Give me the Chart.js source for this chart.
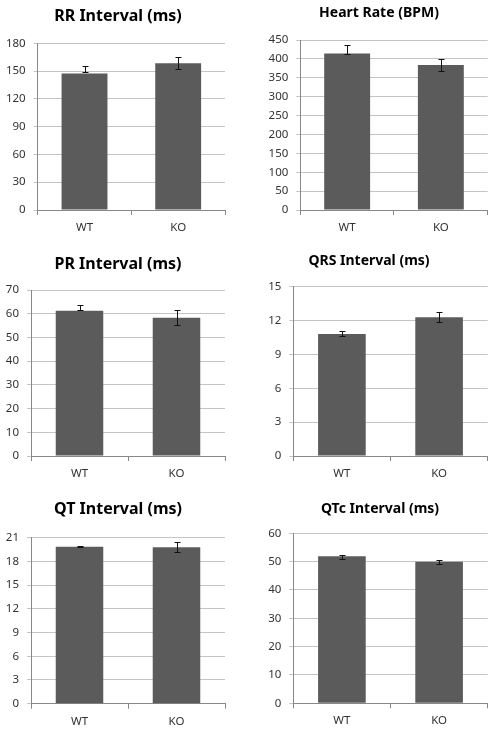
<!DOCTYPE html>
<html>
<head>
<meta charset="utf-8">
<script src="https://cdn.jsdelivr.net/npm/chart.js@4"></script>
<style>
  html, body { margin: 0; padding: 0; background: #fff; }
  #wrap { position: relative; width: 502px; height: 734px; }
  canvas { position: absolute; }
</style>
</head>
<body>
<div id="wrap">
  <canvas id="c1" width="251" height="245" style="left:0px;top:0px"></canvas>
  <canvas id="c2" width="251" height="245" style="left:251px;top:0px"></canvas>
  <canvas id="c3" width="251" height="245" style="left:0px;top:245px"></canvas>
  <canvas id="c4" width="251" height="245" style="left:251px;top:245px"></canvas>
  <canvas id="c5" width="251" height="244" style="left:0px;top:490px"></canvas>
  <canvas id="c6" width="251" height="244" style="left:251px;top:490px"></canvas>
</div>
<script>
/* ===============================
   data (bar value, error bar low / high ends)
================================ */
const categories = ['WT', 'KO'];

const rrValues = [147.5, 158.5];
const rrLow    = [149.2, 152];
const rrHigh   = [155.5, 165.5];

const hrValues = [414, 384];
const hrLow    = [412, 367];
const hrHigh   = [437, 400];

const prValues = [61.2, 58.3];
const prLow    = [61.4, 55.2];
const prHigh   = [63.8, 61.6];

const qrsValues = [10.8, 12.3];
const qrsLow    = [10.66, 11.9];
const qrsHigh   = [11.04, 12.76];

const qtValues = [19.86, 19.78];
const qtLow    = [19.86, 19.23];
const qtHigh   = [19.94, 20.41];

const qtcValues = [51.9, 50.0];
const qtcLow    = [51.1, 49.2];
const qtcHigh   = [52.2, 50.7];

const titles = ['RR Interval (ms)', 'Heart Rate (BPM)', 'PR Interval (ms)',
                'QRS Interval (ms)', 'QT Interval (ms)', 'QTc Interval (ms)'];
const yMax = [180, 450, 70, 15, 21, 60];
const yStep = [30, 50, 10, 3, 3, 10];

/* ===============================
   panel layout
================================ */
const panels = [
  { id: 'c1', values: rrValues,  low: rrLow,  high: rrHigh,  left: 37.7, right: 225,   top: 43.3, bottom: 210,   tx: 118, ty: 16,   ts: 16 },
  { id: 'c2', values: hrValues,  low: hrLow,  high: hrHigh,  left: 49.3, right: 236.7, top: 40,   bottom: 210,   tx: 128, ty: 13.5, ts: 14 },
  { id: 'c3', values: prValues,  low: prLow,  high: prHigh,  left: 31,   right: 225,   top: 45,   bottom: 211,   tx: 118, ty: 19.5, ts: 16 },
  { id: 'c4', values: qrsValues, low: qrsLow, high: qrsHigh, left: 42.3, right: 236.7, top: 41.7, bottom: 211,   tx: 118, ty: 16,   ts: 14 },
  { id: 'c5', values: qtValues,  low: qtLow,  high: qtHigh,  left: 31,   right: 225,   top: 47.7, bottom: 213.7, tx: 118, ty: 19,   ts: 16 },
  { id: 'c6', values: qtcValues, low: qtcLow, high: qtcHigh, left: 42.3, right: 236.7, top: 43.3, bottom: 213.3, tx: 129, ty: 19.5, ts: 14 }
];

// title drawn at a fixed spot, like the Excel chart title
const titlePlugin = {
  id: 'panelTitle',
  afterDraw(chart, args, opts) {
    const ctx = chart.ctx;
    ctx.save();
    ctx.font = 'bold ' + opts.size + 'px "Noto Sans", sans-serif';
    ctx.fillStyle = '#000';
    ctx.textAlign = 'center';
    ctx.textBaseline = 'middle';
    ctx.fillText(opts.text, opts.x, opts.y);
    ctx.restore();
  }
};

// error bars from the y scale
const errorBarPlugin = {
  id: 'errorBars',
  afterDatasetsDraw(chart, args, opts) {
    const ctx = chart.ctx;
    const yScale = chart.scales.y;
    const meta = chart.getDatasetMeta(0);
    ctx.save();
    ctx.strokeStyle = '#111';
    ctx.lineWidth = 1;
    meta.data.forEach((bar, i) => {
      const x = Math.round(bar.x) + 0.5;
      const yHi = Math.round(yScale.getPixelForValue(opts.high[i])) + 0.5;
      const yLo = Math.round(yScale.getPixelForValue(opts.low[i])) + 0.5;
      ctx.beginPath();
      ctx.moveTo(x, yHi); ctx.lineTo(x, yLo);
      ctx.moveTo(x - 3, yHi); ctx.lineTo(x + 3, yHi);
      ctx.moveTo(x - 3, yLo); ctx.lineTo(x + 3, yLo);
      ctx.stroke();
    });
    ctx.restore();
  }
};

panels.forEach((p, i) => {
  const canvas = document.getElementById(p.id);
  const W = canvas.width, H = canvas.height;

  new Chart(canvas.getContext('2d'), {
    type: 'bar',
    data: {
      labels: categories,
      datasets: [{
        data: p.values,
        backgroundColor: '#5b5b5b',
        barPercentage: 0.49,
        categoryPercentage: 1
      }]
    },
    plugins: [titlePlugin, errorBarPlugin],
    options: {
      responsive: false,
      animation: false,
      layout: {
        padding: { left: 0, top: p.top, right: W - p.right, bottom: 0 }
      },
      plugins: {
        legend: { display: false },
        tooltip: { enabled: false },
        panelTitle: { text: titles[i], x: p.tx, y: p.ty, size: p.ts },
        errorBars: { low: p.low, high: p.high }
      },
      scales: {
        x: {
          afterFit(scale) { scale.height = H - p.bottom; },
          grid: {
            offset: true,
            drawOnChartArea: false,
            drawTicks: true,
            tickLength: 5,
            color: '#888'
          },
          border: { color: '#888' },
          ticks: {
            color: '#333',
            padding: 6,
            font: { family: '"Noto Sans", sans-serif', size: 11.5 }
          }
        },
        y: {
          min: 0,
          max: yMax[i],
          afterFit(scale) { scale.width = p.left; },
          ticks: {
            stepSize: yStep[i],
            color: '#333',
            padding: 8,
            font: { family: '"Noto Sans", sans-serif', size: 11.5 }
          },
          grid: {
            color: '#c4c4c4',
            tickLength: 4
          },
          border: { color: '#888' }
        }
      }
    }
  });
});
</script>
</body>
</html>
